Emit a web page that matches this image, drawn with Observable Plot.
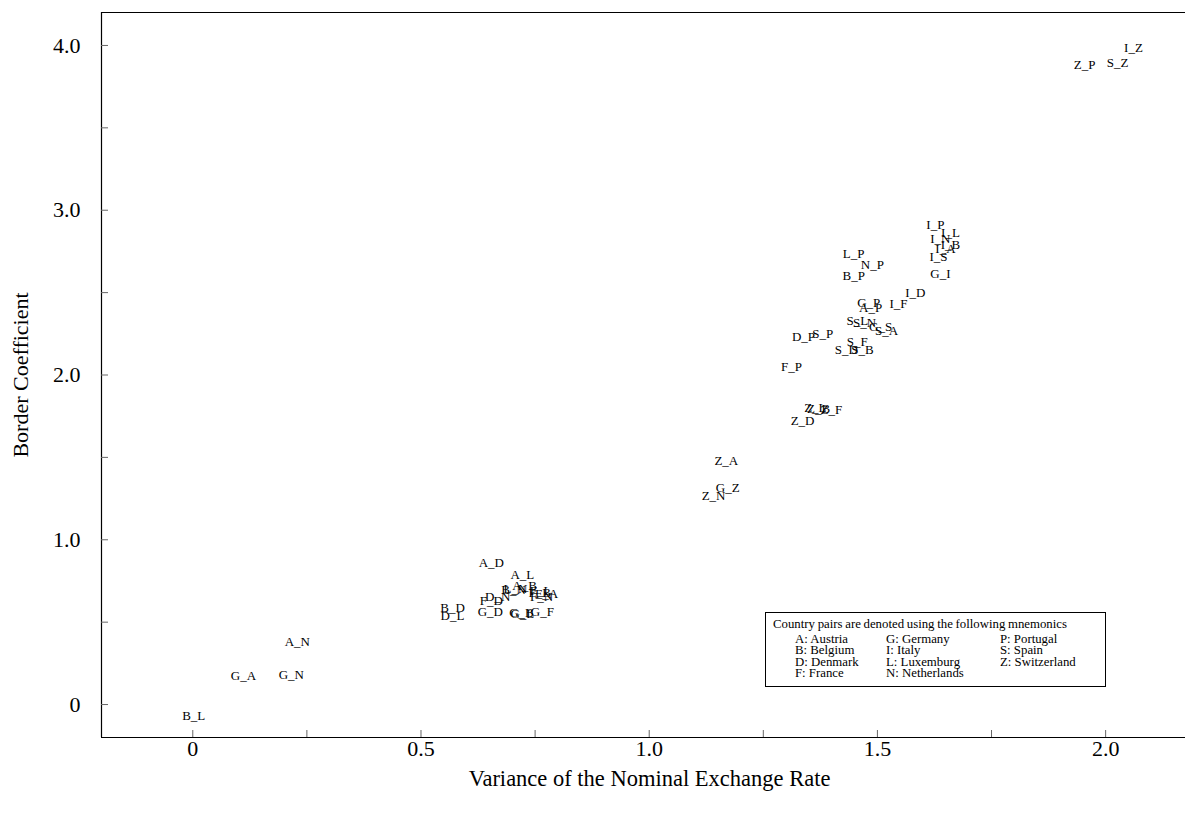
<!DOCTYPE html>
<html><head><meta charset="utf-8">
<script src="https://cdn.jsdelivr.net/npm/d3@7"></script>
<script src="https://cdn.jsdelivr.net/npm/@observablehq/plot@0.6"></script>
<style>
body{margin:0;background:#fff;font-family:"Liberation Serif","Times New Roman",serif;}
#wrap{position:relative;width:1185px;height:819px;overflow:hidden}
#legend{position:absolute;left:765px;top:612px;width:341px;height:75px;border:1px solid #000;box-sizing:border-box;font-size:12.8px;color:#000;background:#fff}
#legend .h{position:absolute;left:7px;top:4px;white-space:nowrap;word-spacing:-0.5px}
#legend .c{position:absolute;white-space:nowrap;line-height:11.3px}
</style>
</head><body>
<div id="wrap"><div id="chart"></div>
<div id="legend"></div></div>
<script>
// Country-pair labels, variance of nominal exchange rate, border coefficient
const pairs = ["Z_P","S_Z","I_Z",
 "I_P","I_L","I_N","I_B","I_A","I_S","G_I","I_D","I_F",
 "L_P","N_P","B_P","G_P","A_P","D_P","S_P","F_P",
 "S_L","S_N","G_S","S_A","S_F","S_D","S_B",
 "Z_L","Z_B","Z_F","Z_D","Z_A","G_Z","Z_N",
 "A_D","A_L","A_B","B_N","L_N","D_N","F_D","F_L","F_B","F_N","F_A","B_D","D_L","G_D","G_B","G_L","G_F",
 "B_L","G_A","G_N","A_N"];
const variance = [1.954,2.026,2.061,
 1.627,1.660,1.638,1.660,1.649,1.634,1.638,1.583,1.546,
 1.448,1.489,1.448,1.481,1.485,1.338,1.380,1.312,
 1.456,1.472,1.507,1.520,1.456,1.432,1.467,
 1.364,1.371,1.399,1.336,1.169,1.172,1.141,
 0.654,0.722,0.727,0.703,0.707,0.668,0.654,0.762,0.760,0.764,0.775,0.569,0.569,0.652,0.720,0.722,0.766,
 0.002,0.111,0.216,0.229];
const border = [3.883,3.896,3.984,
 2.913,2.864,2.828,2.791,2.767,2.718,2.615,2.500,2.433,
 2.737,2.670,2.603,2.439,2.409,2.233,2.251,2.051,
 2.330,2.318,2.294,2.269,2.203,2.154,2.154,
 1.802,1.796,1.790,1.723,1.481,1.317,1.268,
 0.862,0.789,0.722,0.698,0.704,0.655,0.631,0.692,0.680,0.655,0.674,0.589,0.540,0.564,0.558,0.552,0.564,
 -0.067,0.176,0.182,0.382];

const xDomain = [-0.2, 2.175];
const yDomain = [-0.2, 4.2];
const xTickLabels = [0, 0.5, 1.0, 1.5, 2.0];
const yTickLabels = [0, 1.0, 2.0, 3.0, 4.0];
const xMinorTicks = [0, 0.25, 0.5, 0.75, 1.0, 1.25, 1.5, 1.75, 2.0];
const yMinorTicks = [0, 0.5, 1.0, 1.5, 2.0, 2.5, 3.0, 3.5, 4.0];
const xTitle = "Variance of the Nominal Exchange Rate";
const yTitle = "Border Coefficient";

const legendTitle = "Country pairs are denoted using the following mnemonics";
const legendCol1 = ["A: Austria","B: Belgium","D: Denmark","F: France"];
const legendCol2 = ["G: Germany","I: Italy","L: Luxemburg","N: Netherlands"];
const legendCol3 = ["P: Portugal","S: Spain","Z: Switzerland"];

const rows = pairs.map((p,i)=>({pair:p, v:variance[i], b:border[i]}));
const fmt = d => d === 0 ? "0" : d.toFixed(1);

const W = 1185, H = 819, ML = 101, MR = 0, MT = 12, MB = 82;
const innerW = W - ML - MR, innerH = H - MT - MB;

const chart = Plot.plot({
  width: W, height: H,
  marginLeft: ML, marginRight: MR, marginTop: MT, marginBottom: MB,
  style: {fontFamily: '"Liberation Serif","Times New Roman",serif', background: "#fff", color: "#000"},
  x: {domain: xDomain},
  y: {domain: yDomain},
  marks: [
    Plot.ruleX([xDomain[0]], {stroke: "#000", strokeWidth: 1.2}),
    Plot.ruleY([yDomain[1]], {stroke: "#000", strokeWidth: 1.2}),
    Plot.ruleY([yDomain[0]], {stroke: "#000", strokeWidth: 1.2}),
    Plot.tickX(xMinorTicks, {x: d => d, insetTop: innerH - 7, stroke: "#666"}),
    Plot.tickY(yMinorTicks, {y: d => d, insetRight: innerW - 7, stroke: "#666"}),
    Plot.axisX({ticks: xTickLabels, tickFormat: fmt, tickSize: 0, tickPadding: 3, fontSize: 22, label: null}),
    Plot.axisY({ticks: yTickLabels, tickFormat: fmt, tickSize: 0, tickPadding: 21, fontSize: 22, label: null}),
    Plot.text([xTitle], {frameAnchor: "bottom", text: d => d, dy: 41, dx: 6, lineAnchor: "middle", textAnchor: "middle", fontSize: 22.5}),
    Plot.text([yTitle], {frameAnchor: "left", text: d => d, dx: -81, rotate: -90, lineAnchor: "middle", textAnchor: "middle", fontSize: 22}),
    Plot.text(rows, {x: "v", y: "b", text: "pair", fontSize: 13, fill: "#000"})
  ]
});
document.getElementById("chart").appendChild(chart);

const lg = document.getElementById("legend");
const h = document.createElement("div"); h.className = "h"; h.textContent = legendTitle; lg.appendChild(h);
[[legendCol1, 29],[legendCol2, 120],[legendCol3, 234]].forEach(([col, left]) => {
  const c = document.createElement("div"); c.className = "c";
  c.style.left = left + "px"; c.style.top = "21px";
  c.innerHTML = col.map(s => `<div>${s}</div>`).join("");
  lg.appendChild(c);
});
</script>
</body></html>
